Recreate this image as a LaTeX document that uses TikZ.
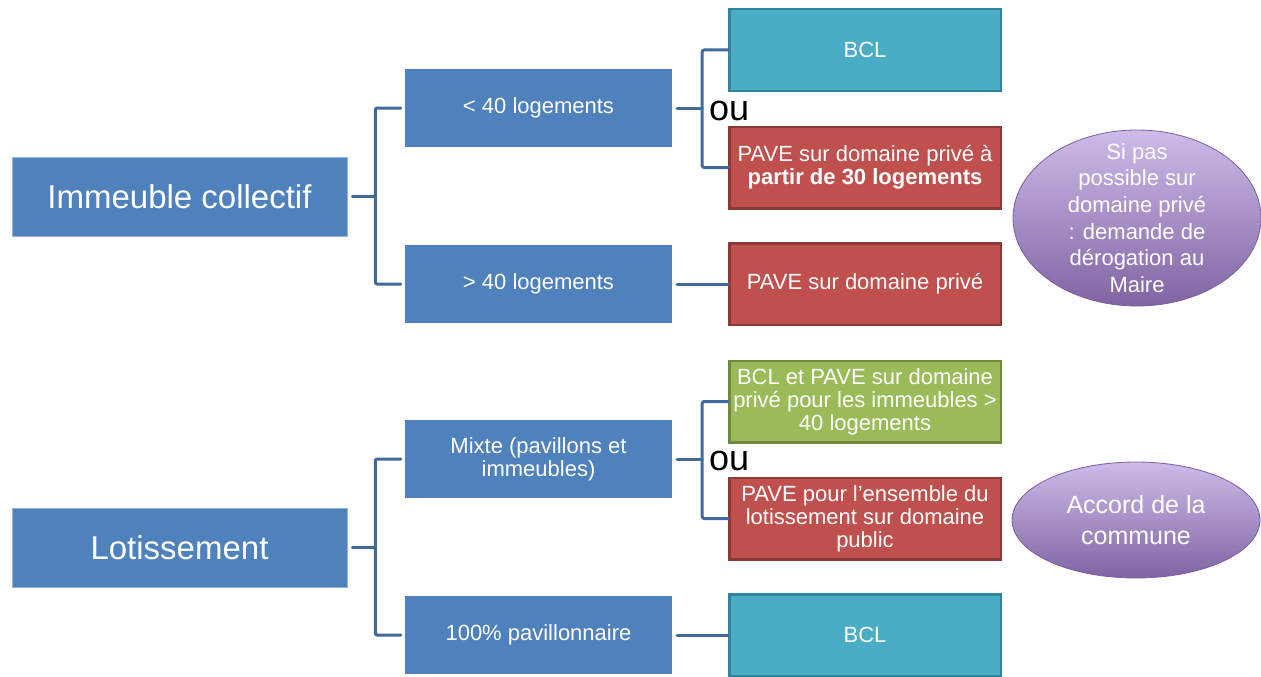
\documentclass[tikz,border=0pt]{standalone}
\usepackage{fontspec}
\setmainfont{Liberation Sans}
\usepackage{tikz}
\usetikzlibrary{shapes.geometric, calc}
\definecolor{BoxBlue}{HTML}{4F81BD}
\definecolor{LinkBlue}{HTML}{41699A}
\definecolor{BclTeal}{HTML}{4BACC6}
\definecolor{BclEdge}{HTML}{31849B}
\definecolor{PaveRed}{HTML}{C0504D}
\definecolor{PaveEdge}{HTML}{8C3836}
\definecolor{MixGreen}{HTML}{9BBB59}
\definecolor{MixEdge}{HTML}{71893F}
\definecolor{LilacTop}{HTML}{CDBBE9}
\definecolor{LilacBot}{HTML}{8064A2}
\definecolor{LilacEdge}{HTML}{7A5E9E}

\begin{document}
\begin{tikzpicture}[x=1pt, y=-1pt, line cap=round,
	typebox/.style={fill=BoxBlue, draw=BoxBlue!60!white, line width=0.6pt, text=white, minimum width=335pt, minimum height=79pt, font=\fontsize{33}{36}\selectfont},
	casebox/.style={fill=BoxBlue, text=white, minimum width=267pt, minimum height=78pt, inner sep=2pt, align=center, font=\fontsize{22}{23}\selectfont},
	rulebox/.style={draw=#1, line width=2.5pt, text=white, minimum width=271.5pt, minimum height=81.5pt, inner sep=1pt, align=center, font=\fontsize{22}{23}\selectfont},
	bcl/.style={rulebox=BclEdge, fill=BclTeal},
	pave/.style={rulebox=PaveEdge, fill=PaveRed},
	mix/.style={rulebox=MixEdge, fill=MixGreen},
	remark/.style={ellipse, draw=LilacEdge, line width=0.8pt, top color=LilacTop, bottom color=LilacBot, text=white, minimum width=248pt, align=center},
	orlabel/.style={anchor=base west, inner sep=0pt, font=\fontsize{36}{36}\selectfont},
	link/.style={draw=LinkBlue, line width=3pt, rounded corners=2pt}
	]

	\useasboundingbox (0,0) rectangle (1261,677);

	% types de projet
	\node[typebox] (ic) at (179.5,196.5) {Immeuble collectif};
	\node[typebox] (lot) at (179.5,547.5) {Lotissement};

	% cas
	\node[casebox] (lt40) at (538.5,108) {< 40 logements};
	\node[casebox] (gt40) at (538.5,284) {> 40 logements};
	\node[casebox] (mixte) at (538.5,459) {Mixte (pavillons et\\immeubles)};
	\node[casebox] (pav) at (538.5,635) {100\% pavillonnaire};

	% solutions
	\node[bcl] (bclA) at (865,50) {BCL};
	\node[pave] (paveA) at (865,167.5) {PAVE sur domaine privé à\\\textbf{partir de 30 logements}};
	\node[pave] (paveB) at (865,284) {PAVE sur domaine privé};
	\node[mix] (mixA) at (865,401.5) {BCL et PAVE sur domaine\\privé pour les immeubles >\\40 logements};
	\node[pave] (paveC) at (865,518.5) {PAVE pour l’ensemble du\\lotissement sur domaine\\public};
	\node[bcl] (bclB) at (865,635) {BCL};

	\node[orlabel] (ouA) at (709,120) {ou};
	\node[orlabel] (ouB) at (709,470) {ou};

	% remarques
	\node[remark, minimum height=176pt, inner xsep=0pt, inner ysep=-22pt, font=\fontsize{22}{26.7}\selectfont] (derog) at (1137,218) {Si pas\\possible sur\\domaine privé\\: demande de\\dérogation au\\Maire};
	\node[remark, minimum height=116pt, font=\fontsize{25}{31}\selectfont] (accord) at (1136,520) {Accord de la\\commune};

	% liaisons
	\draw[link] ([xshift=5pt]ic.east) -- ++(23,0);
	\draw[link] ([xshift=-4pt]lt40.west) -| ($(ic.east)+(28,0)$) |- ([xshift=-4pt]gt40.west);
	\draw[link] ([xshift=5pt]lot.east) -- ++(23,0);
	\draw[link] ([xshift=-4pt]mixte.west) -| ($(lot.east)+(28,0)$) |- ([xshift=-4pt]pav.west);

	\draw[link] ([xshift=5pt]lt40.east) -- ++(25,0);
	\draw[link] (bclA.west) -| ($(lt40.east)+(30,0)$) |- (paveA.west);
	\draw[link] ([xshift=5pt]gt40.east) -- (paveB.west);
	\draw[link] ([xshift=5pt]mixte.east) -- ++(25,0);
	\draw[link] (mixA.west) -| ($(mixte.east)+(30,0)$) |- (paveC.west);
	\draw[link] ([xshift=5pt]pav.east) -- (bclB.west);

\end{tikzpicture}
\end{document}
